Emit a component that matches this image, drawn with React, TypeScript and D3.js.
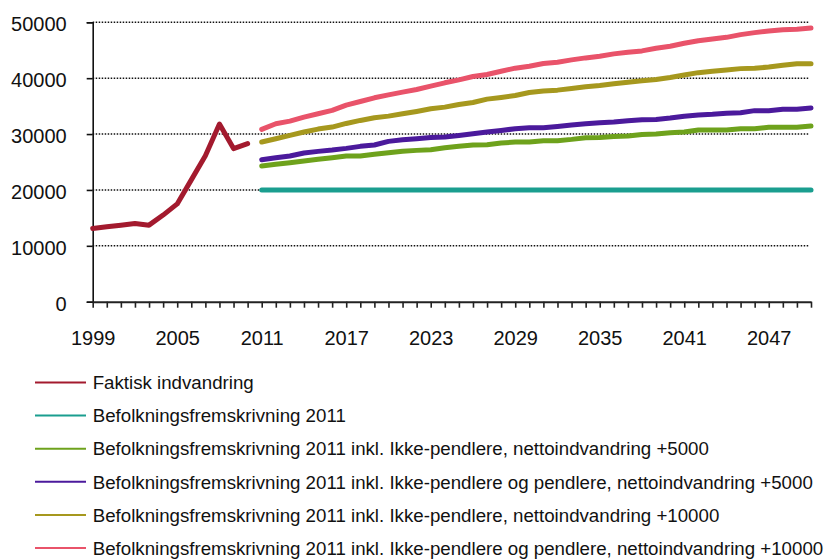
import { useEffect, useRef } from "react";
import * as d3 from "d3";

// categories
const years = d3.range(1999, 2051);
const xTickLabels = [1999, 2005, 2011, 2017, 2023, 2029, 2035, 2041, 2047];
const yTicks = [0, 10000, 20000, 30000, 40000, 50000];

// 1999-2010
const faktisk = [13100, 13400, 13700, 14000, 13700, 15500, 17500, 21800, 26100, 31800, 27400, 28300];

// 2011-2050
const fremskrivning = [
  20000, 20000, 20000, 20000, 20000, 20000, 20000, 20000, 20000, 20000,
  20000, 20000, 20000, 20000, 20000, 20000, 20000, 20000, 20000, 20000,
  20000, 20000, 20000, 20000, 20000, 20000, 20000, 20000, 20000, 20000,
  20000, 20000, 20000, 20000, 20000, 20000, 20000, 20000, 20000, 20000,
];
const ikkePendlere5000 = [
  24290, 24580, 24880, 25180, 25480, 25770, 26070, 26070, 26370, 26670,
  26930, 27080, 27200, 27560, 27800, 28040, 28100, 28390, 28570, 28570,
  28810, 28810, 29050, 29350, 29400, 29580, 29640, 29940, 30000, 30240,
  30370, 30730, 30730, 30730, 30970, 30970, 31210, 31210, 31210, 31450,
];
const pendlere5000 = [
  25420, 25770, 26070, 26610, 26900, 27140, 27440, 27800, 28040, 28690,
  28990, 29170, 29400, 29460, 29760, 30060, 30360, 30650, 30950, 31130,
  31130, 31370, 31610, 31850, 32020, 32140, 32380, 32560, 32620, 32860,
  33200, 33420, 33540, 33720, 33830, 34190, 34190, 34430, 34430, 34670,
];
const ikkePendlere10000 = [
  28570, 29170, 29760, 30360, 30890, 31250, 31900, 32440, 32920, 33210,
  33630, 34050, 34520, 34820, 35300, 35650, 36250, 36550, 36900, 37440,
  37710, 37860, 38150, 38450, 38690, 38990, 39290, 39520, 39760, 40120,
  40580, 40990, 41230, 41470, 41710, 41770, 42000, 42300, 42600, 42600,
];
const pendlere10000 = [
  30830, 31850, 32320, 33040, 33630, 34230, 35180, 35830, 36490, 37020,
  37500, 37980, 38570, 39170, 39700, 40300, 40650, 41250, 41790, 42140,
  42620, 42860, 43270, 43630, 43930, 44350, 44640, 44880, 45360, 45710,
  46250, 46710, 47010, 47310, 47790, 48150, 48440, 48680, 48740, 48980,
];

const seriesNames = [
  "Faktisk indvandring",
  "Befolkningsfremskrivning 2011",
  "Befolkningsfremskrivning 2011 inkl. Ikke-pendlere, nettoindvandring +5000",
  "Befolkningsfremskrivning 2011 inkl. Ikke-pendlere og pendlere, nettoindvandring +5000",
  "Befolkningsfremskrivning 2011 inkl. Ikke-pendlere, nettoindvandring +10000",
  "Befolkningsfremskrivning 2011 inkl. Ikke-pendlere og pendlere, nettoindvandring +10000",
];
const seriesStart = [1999, 2011, 2011, 2011, 2011, 2011];
const seriesValues = [faktisk, fremskrivning, ikkePendlere5000, pendlere5000, ikkePendlere10000, pendlere10000];
const colors = ["#A31A2E", "#1A9E8F", "#6EA21C", "#4B1A9C", "#A6981E", "#E9536A"];

const FONT = "Arial, 'Liberation Sans', sans-serif";

export default function App() {
  const svgRef = useRef<SVGSVGElement>(null);

  useEffect(() => {
    if (!svgRef.current) return;
    const svg = d3.select(svgRef.current);
    svg.selectAll("*").remove();

    const left = 92.7;
    const right = 811;
    const top = 22.3;
    const bottom = 301.7;

    const x = d3.scalePoint<number>().domain(years).range([left, right]);
    const y = d3.scaleLinear().domain([0, 50000]).range([bottom, top]);

    // Grid lines
    svg
      .append("g")
      .selectAll("line")
      .data(yTicks.filter((d) => d > 0))
      .join("line")
      .attr("x1", left)
      .attr("x2", right - 2)
      .attr("y1", (d) => y(d))
      .attr("y2", (d) => y(d))
      .attr("stroke", "#111")
      .attr("stroke-width", 1.5)
      .attr("stroke-dasharray", "1.5,1.5");

    // Y axis
    const yAxis = svg
      .append("g")
      .attr("transform", `translate(${left},0)`)
      .call(d3.axisLeft(y).tickValues(yTicks).tickSize(6).tickPadding(20).tickFormat((d) => String(d)));
    yAxis.select(".domain").attr("stroke", "#111").attr("stroke-width", 1.6);
    yAxis.selectAll("line").attr("stroke", "#111").attr("stroke-width", 1.6);
    yAxis
      .selectAll("text")
      .attr("font-family", FONT)
      .attr("font-size", 20)
      .attr("fill", "#111")
      .attr("dy", "0.42em");

    // X axis
    const xAxis = svg
      .append("g")
      .attr("transform", `translate(0,${bottom})`)
      .call(
        d3
          .axisBottom(x)
          .tickSizeInner(6)
          .tickSizeOuter(0)
          .tickPadding(23)
          .tickFormat((d) => (xTickLabels.includes(d as number) ? String(d) : ""))
      );
    xAxis.select(".domain").attr("stroke", "#222").attr("stroke-width", 2);
    xAxis.selectAll("line").attr("stroke", "#222").attr("stroke-width", 1.6);
    xAxis
      .selectAll("text")
      .attr("font-family", FONT)
      .attr("font-size", 20)
      .attr("fill", "#111");

    // Lines
    const line = d3
      .line<{ year: number; value: number }>()
      .x((d) => x(d.year) ?? 0)
      .y((d) => y(d.value));

    seriesValues.forEach((vals, i) => {
      const pts = vals.map((v, j) => ({ year: seriesStart[i] + j, value: v }));
      svg
        .append("path")
        .datum(pts)
        .attr("d", line)
        .attr("fill", "none")
        .attr("stroke", colors[i])
        .attr("stroke-width", 5)
        .attr("stroke-linecap", "round")
        .attr("stroke-linejoin", "round");
    });

    // Legend
    const legend = svg
      .append("g")
      .selectAll("g")
      .data(seriesNames)
      .join("g")
      .attr("transform", (_, i) => `translate(0,${382.5 + i * 33.1})`);

    legend
      .append("line")
      .attr("x1", 35)
      .attr("x2", 86)
      .attr("stroke", (_, i) => colors[i])
      .attr("stroke-width", 2);

    legend
      .append("text")
      .attr("x", 92.7)
      .attr("dy", "0.36em")
      .attr("font-family", FONT)
      .attr("font-size", 18.7)
      .attr("fill", "#111")
      .text((d) => d);
  }, []);

  return (
    <svg
      ref={svgRef}
      width={829}
      height={560}
      style={{ position: "absolute", left: 0, top: 0, background: "#fff" }}
    />
  );
}
